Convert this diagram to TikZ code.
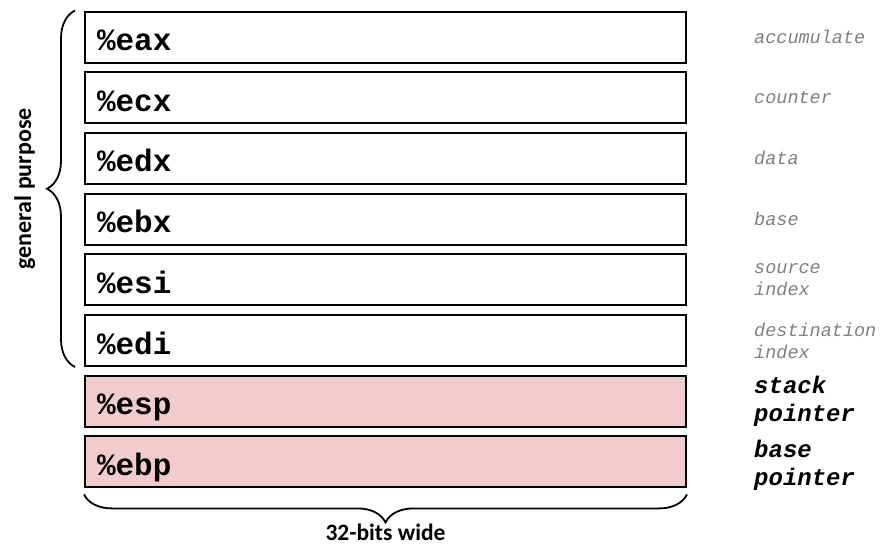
\documentclass[tikz,border=0pt]{standalone}
\usepackage{fontspec}
\setmainfont{Carlito}
\setmonofont{Liberation Mono}
\usetikzlibrary{positioning, decorations.pathreplacing}
\definecolor{regpink}{RGB}{242,204,204}
\definecolor{notegray}{RGB}{128,128,128}

\begin{document}
\begin{tikzpicture}[x=1pt,y=-1pt,
reg/.style={draw,line width=2pt,minimum width=601pt,minimum height=51pt,text width=577pt,text height=27pt,text depth=0pt,inner xsep=12pt,align=left,font=\fontsize{31}{31}\selectfont\ttfamily\bfseries},
spreg/.style={reg,fill=regpink},
note/.style={inner sep=0pt,align=left,text=notegray,font=\fontsize{18.5}{22}\selectfont\ttfamily\itshape},
role/.style={inner sep=0pt,align=left,font=\fontsize{24}{28}\selectfont\ttfamily\bfseries\itshape},
cbrace/.style={decorate,decoration={brace,amplitude=28pt},line width=1.8pt},
node distance=7.7pt
]
\useasboundingbox (0,0) rectangle (883,552);
\node[reg] (eax) at (385.5,37) {\%eax};
\node[reg, below=of eax] (ecx) {\%ecx};
\node[reg, below=of ecx] (edx) {\%edx};
\node[reg, below=of edx] (ebx) {\%ebx};
\node[reg, below=of ebx] (esi) {\%esi};
\node[reg, below=of esi] (edi) {\%edi};
\node[spreg, below=of edi] (esp) {\%esp};
\node[spreg, below=of esp] (ebp) {\%ebp};
\node[note, right=67pt of eax.east] (accum) {accumulate};
\node[note, right=67pt of ecx.east] (count) {counter};
\node[note, right=67pt of edx.east] (data) {data};
\node[note, right=67pt of ebx.east] (base) {base};
\node[note, right=67pt of esi.east] (srcidx) {source\\index};
\node[note, right=67pt of edi.east] (dstidx) {destination\\index};
\node[role, right=67pt of esp.east] (stackptr) {stack\\pointer};
\node[role, right=67pt of ebp.east, yshift=-3.5pt] (baseptr) {base\\pointer};
\coordinate (gplow) at ([xshift=-9pt]edi.south west);
\coordinate (gphigh) at ([xshift=-9pt]eax.north west);
\coordinate (wdright) at ([yshift=-6pt]ebp.south east);
\coordinate (wdleft) at ([yshift=-6pt]ebp.south west);
\draw[cbrace] (gplow) -- (gphigh)
  node[midway, xshift=-39pt, rotate=90, anchor=south, inner sep=0pt, font=\fontsize{24}{24}\selectfont\bfseries] (gp) {general purpose};
\draw[cbrace] (wdright) -- (wdleft)
  node[midway, yshift=-29pt, anchor=north, inner sep=0pt, font=\fontsize{23.5}{24}\selectfont\bfseries] (wide) {32-bits wide};
\end{tikzpicture}
\end{document}
